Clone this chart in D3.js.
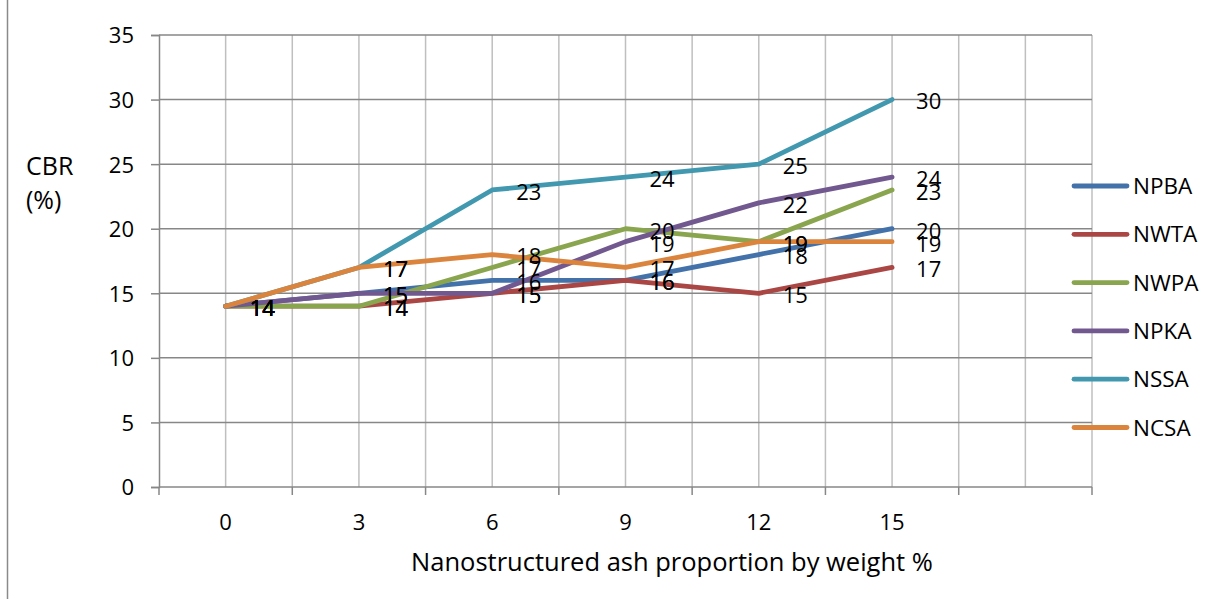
<!DOCTYPE html>
<html>
<head>
<meta charset="utf-8">
<script src="https://cdn.jsdelivr.net/npm/d3@7"></script>
<style>
  html, body { margin: 0; padding: 0; background: #fff; }
  svg { display: block; }
  text { font-family: "Open Sans", sans-serif; fill: #000; }
</style>
</head>
<body>
<svg id="chart" width="1219" height="599"></svg>
<script>
// ---- data ----
const categories = ["0", "3", "6", "9", "12", "15", ""];
const seriesNames = ["NPBA", "NWTA", "NWPA", "NPKA", "NSSA", "NCSA"];
const NPBA = [14, 15, 16, 16, 18, 20];
const NWTA = [14, 14, 15, 16, 15, 17];
const NWPA = [14, 14, 17, 20, 19, 23];
const NPKA = [14, 15, 15, 19, 22, 24];
const NSSA = [14, 17, 23, 24, 25, 30];
const NCSA = [14, 17, 18, 17, 19, 19];
const yTicks = [0, 5, 10, 15, 20, 25, 30, 35];
const colors = ["#4372AA", "#AA4643", "#89A54E", "#71588F", "#4198AF", "#DB843D"];
const xTitle = "Nanostructured ash proportion by weight %";
const yTitle = ["CBR", "(%)"];

const seriesValues = [NPBA, NWTA, NWPA, NPKA, NSSA, NCSA];

// ---- layout ----
const svg = d3.select("#chart");
const pL = 159, pR = 1092, pT = 35, pB = 487;
const catKeys = categories.map((c, i) => "k" + i);
const x = d3.scaleBand().domain(catKeys).range([pL, pR]).padding(0);
const bw = x.bandwidth();
const cx = i => x(catKeys[i]) + bw / 2;
const y = d3.scaleLinear().domain([0, 35]).range([pB, pT]);

// left border of chart frame
svg.append("line").attr("x1", 7.5).attr("x2", 7.5).attr("y1", 0).attr("y2", 599)
  .attr("stroke", "#8a8a8a").attr("stroke-width", 1.5);

// vertical gridlines (category boundaries and centres)
const vPos = [];
catKeys.forEach((k, i) => { vPos.push(x(k)); vPos.push(x(k) + bw / 2); });
vPos.push(pR);
svg.append("g").selectAll("line").data(vPos.slice(1)).join("line")
  .attr("x1", d => d).attr("x2", d => d).attr("y1", pT).attr("y2", pB)
  .attr("stroke", "#bfbfbf").attr("stroke-width", 1.5);

// horizontal gridlines
svg.append("g").selectAll("line").data(yTicks.filter(t => t > 0)).join("line")
  .attr("x1", pL).attr("x2", pR).attr("y1", d => y(d)).attr("y2", d => y(d))
  .attr("stroke", "#878787").attr("stroke-width", 1.5);

// y axis
const yAxis = d3.axisLeft(y).tickValues(yTicks).tickSize(8).tickPadding(17);
const gy = svg.append("g").attr("transform", `translate(${pL},0)`).call(yAxis);
gy.select(".domain").attr("stroke", "#878787").attr("stroke-width", 1.5);
gy.selectAll(".tick line").attr("stroke", "#878787").attr("stroke-width", 1.5);
gy.selectAll(".tick text").attr("font-size", 22).attr("font-family", "Open Sans").attr("fill", "#000").attr("dy", "0.36em");

// x axis (ticks at category boundaries)
const gx = svg.append("g").attr("transform", `translate(0,${pB})`);
gx.append("line").attr("x1", pL).attr("x2", pR).attr("stroke", "#878787").attr("stroke-width", 1.5);
const bounds = catKeys.map(k => x(k)).concat([pR]);
gx.selectAll("line.tk").data(bounds).join("line").attr("class", "tk")
  .attr("x1", d => d).attr("x2", d => d).attr("y1", 0).attr("y2", 8)
  .attr("stroke", "#878787").attr("stroke-width", 1.5);
gx.selectAll("text").data(categories).join("text")
  .attr("x", (d, i) => cx(i)).attr("y", 43).attr("text-anchor", "middle")
  .attr("font-size", 22).text(d => d);

// axis titles
svg.append("text").attr("x", 672).attr("y", 571).attr("text-anchor", "middle")
  .attr("font-size", 25.5).text(xTitle);
svg.append("text").attr("x", 26).attr("y", 175).attr("font-size", 25).text(yTitle[0]);
svg.append("text").attr("x", 26).attr("y", 209).attr("font-size", 25).text(yTitle[1]);

// lines
const line = d3.line().x((d, i) => cx(i)).y(d => y(d));
svg.append("g").selectAll("path").data(seriesValues).join("path")
  .attr("d", d => line(d)).attr("fill", "none")
  .attr("stroke", (d, i) => colors[i]).attr("stroke-width", 4.8)
  .attr("stroke-linejoin", "round").attr("stroke-linecap", "round");

// data labels
seriesValues.forEach((vals, si) => {
  svg.append("g").selectAll("text").data(vals).join("text")
    .attr("x", (d, i) => cx(i) + 24).attr("y", d => y(d) + 2)
    .attr("dy", "0.36em").attr("font-size", 22).text(d => d);
});

// legend
const lg = svg.append("g");
seriesNames.forEach((n, i) => {
  const ly = 186 + i * 48.3;
  lg.append("line").attr("x1", 1074).attr("x2", 1127).attr("y1", ly).attr("y2", ly)
    .attr("stroke", colors[i]).attr("stroke-width", 4.8).attr("stroke-linecap", "round");
  lg.append("text").attr("x", 1133).attr("y", ly).attr("dy", "0.36em")
    .attr("font-size", 22.5).text(n);
});
</script>
</body>
</html>
